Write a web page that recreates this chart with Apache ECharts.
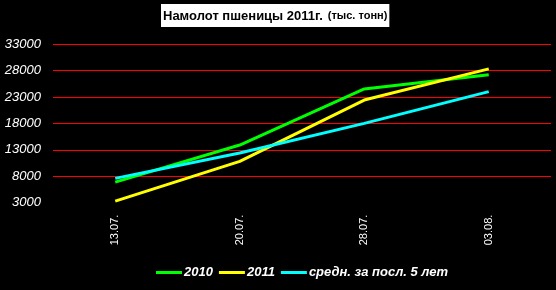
<!DOCTYPE html>
<html><head><meta charset="utf-8">
<script src="https://cdn.jsdelivr.net/npm/echarts@6/dist/echarts.min.js"></script>
<style>html,body{margin:0;padding:0;background:#000}#c{width:556px;height:290px}</style>
</head><body><div id="c"></div>
<script>
const categories = ['13.07.', '20.07.', '28.07.', '03.08.'];
const s2010 = [6900, 13900, 24500, 27200];
const s2011 = [3300, 10800, 22400, 28300];
const avg5 = [7600, 12400, 18000, 24000];
const names = ['2010', '2011', 'средн. за посл. 5 лет'];
const colors = ['#00ff00', '#ffff00', '#00ffff'];

const chart = echarts.init(document.getElementById('c'));
chart.setOption({
  backgroundColor: '#000',
  animation: false,
  title: {
    text: '{a|Намолот пшеницы 2011г.} {b|(тыс. тонн)}',
    left: 161, top: 4,
    backgroundColor: '#fff',
    padding: [3, 2, 2, 2],
    textStyle: {
      rich: {
        a: {fontFamily: 'Liberation Sans, Arial', fontWeight: 'bold', fontSize: 13, color: '#000'},
        b: {fontFamily: 'Liberation Sans, Arial', fontSize: 11, color: '#000'}
      }
    }
  },
  legend: {
    bottom: 6, left: 151,
    icon: 'rect', itemWidth: 26, itemHeight: 3, itemGap: 6,
    data: names,
    textStyle: {color: '#fff', fontFamily: 'Liberation Sans, Arial', fontWeight: 'bold', fontStyle: 'italic', fontSize: 13, padding: [0,0,0,-3]}
  },
  grid: {left: 53, right: 5, top: 44, bottom: 87.3},
  xAxis: {
    type: 'category', data: categories, boundaryGap: true,
    axisLine: {show: false}, axisTick: {show: false},
    axisLabel: {color: '#fff', rotate: 90, fontSize: 11, fontFamily: 'Liberation Sans, Arial', margin: 12}
  },
  yAxis: {
    type: 'value', min: 3000, max: 33000, interval: 5000,
    axisLine: {show: false}, axisTick: {show: false},
    splitLine: {show: true, lineStyle: {color: '#ff0000', width: 1}, showMinLine: false},
    axisLabel: {color: '#fff', fontStyle: 'italic', fontSize: 13, fontFamily: 'Liberation Sans, Arial', margin: 12, formatter: v => String(v)}
  },
  series: [
    {name: names[0], type: 'line', data: s2010, showSymbol: false, lineStyle: {width: 3, color: colors[0]}, itemStyle: {color: colors[0]}},
    {name: names[1], type: 'line', data: s2011, showSymbol: false, lineStyle: {width: 3, color: colors[1]}, itemStyle: {color: colors[1]}},
    {name: names[2], type: 'line', data: avg5, showSymbol: false, lineStyle: {width: 3, color: colors[2]}, itemStyle: {color: colors[2]}}
  ]
});
</script></body></html>
